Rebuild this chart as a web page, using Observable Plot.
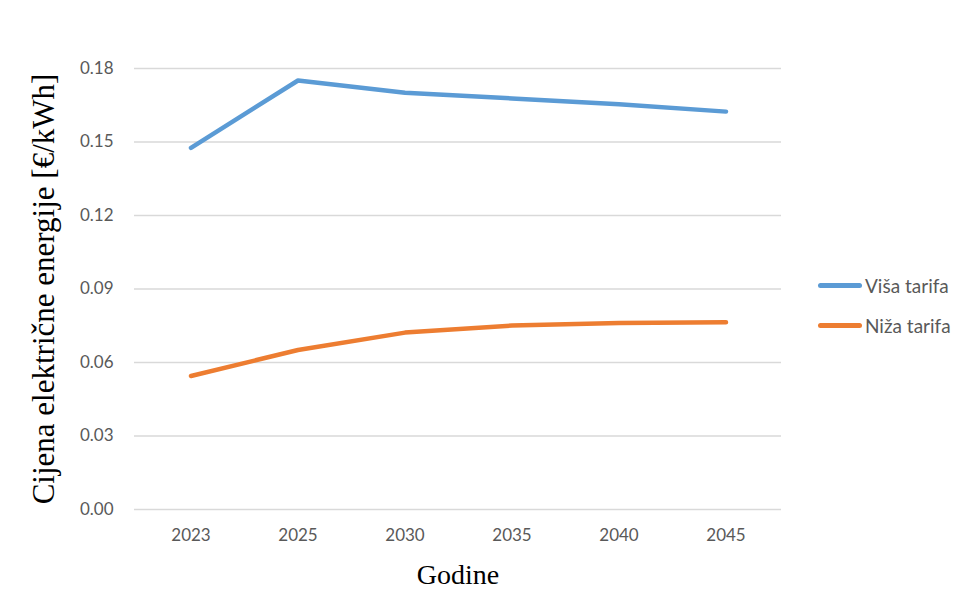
<!DOCTYPE html>
<html>
<head>
<meta charset="utf-8">
<script src="https://cdn.jsdelivr.net/npm/d3@7"></script>
<script src="https://cdn.jsdelivr.net/npm/@observablehq/plot@0.6"></script>
<style>
  body { margin: 0; background: #fff; }
  #wrap { position: relative; width: 971px; height: 612px; }
  #legend { position: absolute; left: 818px; top: 273px; font-family: Lato, "Liberation Sans", sans-serif; font-size: 19px; color: #595959; }
  .item { display: flex; align-items: center; height: 24px; margin-bottom: 16px; }
  .sw { width: 44px; height: 5px; border-radius: 3px; margin-right: 3px; }
</style>
</head>
<body>
<div id="wrap"><div id="legend"></div></div>
<script>
const years = ["2023", "2025", "2030", "2035", "2040", "2045"];
const visaTarifa = [0.1476, 0.1751, 0.1701, 0.1678, 0.1654, 0.1624];
const nizaTarifa = [0.0545, 0.0651, 0.0722, 0.0751, 0.0761, 0.0764];
const seriesNames = ["Viša tarifa", "Niža tarifa"];
const seriesColors = ["#5b9bd5", "#ed7d31"];
const yTicks = [0, 0.03, 0.06, 0.09, 0.12, 0.15, 0.18];
const yLabel = "Cijena električne energije [€/kWh]";
const xLabel = "Godine";

const rows = [];
years.forEach((y, i) => {
  rows.push({year: y, value: visaTarifa[i], series: seriesNames[0]});
  rows.push({year: y, value: nizaTarifa[i], series: seriesNames[1]});
});

const chart = Plot.plot({
  width: 971,
  height: 612,
  marginLeft: 134,
  marginRight: 190,
  marginTop: 68,
  marginBottom: 103,
  style: {background: "#fff", fontFamily: "Lato, 'Liberation Sans', sans-serif", fontSize: "17px", color: "#595959"},
  x: {type: "band", domain: years, padding: 0, label: null},
  y: {domain: [0, 0.18], label: null},
  color: {domain: seriesNames, range: seriesColors},
  marks: [
    Plot.gridY(yTicks, {stroke: "#d9d9d9", strokeOpacity: 1, strokeWidth: 1.5}),
    Plot.axisY(yTicks, {tickSize: 0, tickPadding: 21, tickFormat: d3.format(".2f"), fill: "#595959", fontSize: 17, label: null}),
    Plot.axisX({tickSize: 0, tickPadding: 19, fill: "#595959", fontSize: 17, label: null}),
    Plot.line(rows, {x: "year", y: "value", z: "series", stroke: "series", strokeWidth: 4.5, strokeLinecap: "round", strokeLinejoin: "round"}),
    Plot.text([yLabel], {frameAnchor: "left", dx: -90, rotate: -90, textAnchor: "middle", lineAnchor: "middle", text: d => d, fontFamily: "'Liberation Serif', 'Times New Roman', serif", fontSize: 31, fill: "#000"}),
    Plot.text([xLabel], {frameAnchor: "bottom", dy: 66, textAnchor: "middle", lineAnchor: "middle", text: d => d, fontFamily: "'Liberation Serif', 'Times New Roman', serif", fontSize: 28, fill: "#000"})
  ]
});
document.getElementById("wrap").prepend(chart);

const legend = document.getElementById("legend");
seriesNames.forEach((n, i) => {
  const it = document.createElement("div");
  it.className = "item";
  it.innerHTML = `<div class="sw" style="background:${seriesColors[i]}"></div><span>${n}</span>`;
  legend.appendChild(it);
});
</script>
</body>
</html>
